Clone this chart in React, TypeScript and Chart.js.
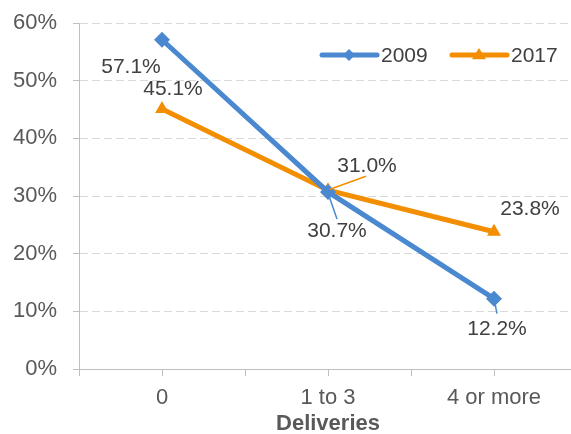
import React, { useEffect, useRef } from "react";
import { Chart, registerables } from "chart.js";

Chart.register(...registerables);

const categories = ["0", "1 to 3", "4 or more"];
const series2009 = [57.1, 30.7, 12.2];
const series2017 = [45.1, 31.0, 23.8];
const seriesNames = ["2009", "2017"];
const yTicks = [0, 10, 20, 30, 40, 50, 60];

const BLUE = "#4a88cf";
const ORANGE = "#f28e00";
const FONT = "'Liberation Sans', Arial, sans-serif";

// label placement relative to its point: dx, dy, optional leader line [x1, y1, x2, y2]
const labelPlacement: Record<string, { dx: number; dy: number; leader?: [number, number, number, number] }> = {
  "0-0": { dx: -31, dy: 27 },
  "0-1": { dx: 9, dy: 39, leader: [1, 4, 9, 27] },
  "0-2": { dx: 3, dy: 31, leader: [1, 5, 3, 15] },
  "1-0": { dx: 11, dy: -20 },
  "1-1": { dx: 39, dy: -24, leader: [2, -1, 38, -14] },
  "1-2": { dx: 36, dy: -23 },
};

function drawMarker(ctx: CanvasRenderingContext2D, style: string, x: number, y: number, color: string) {
  ctx.fillStyle = color;
  ctx.beginPath();
  if (style === "rectRot") {
    const r = 6;
    ctx.moveTo(x, y - r);
    ctx.lineTo(x + r, y);
    ctx.lineTo(x, y + r);
    ctx.lineTo(x - r, y);
  } else {
    const r = 7;
    ctx.moveTo(x, y - r);
    ctx.lineTo(x + r, y + r * 0.6);
    ctx.lineTo(x - r, y + r * 0.6);
  }
  ctx.closePath();
  ctx.fill();
}

const extrasPlugin = {
  id: "extras",
  afterDatasetsDraw(chart: any) {
    const ctx = chart.ctx;
    const xs = chart.scales.x;
    const area = chart.chartArea;
    ctx.save();
    // tick marks at category centres
    ctx.strokeStyle = "#bfbfbf";
    ctx.lineWidth = 1;
    categories.forEach((_, i) => {
      const px = Math.round(xs.getPixelForValue(i)) + 0.5;
      ctx.beginPath();
      ctx.moveTo(px, area.bottom);
      ctx.lineTo(px, area.bottom + 7);
      ctx.stroke();
    });
    // data labels
    ctx.font = `21px ${FONT}`;
    ctx.textAlign = "center";
    ctx.textBaseline = "middle";
    chart.data.datasets.forEach((ds: any, di: number) => {
      const meta = chart.getDatasetMeta(di);
      meta.data.forEach((pt: any, i: number) => {
        const p = labelPlacement[`${di}-${i}`];
        if (!p) return;
        if (p.leader) {
          ctx.strokeStyle = di === 0 ? BLUE : ORANGE;
          ctx.lineWidth = 1.5;
          ctx.beginPath();
          ctx.moveTo(pt.x + p.leader[0], pt.y + p.leader[1]);
          ctx.lineTo(pt.x + p.leader[2], pt.y + p.leader[3]);
          ctx.stroke();
        }
        ctx.fillStyle = "#404040";
        ctx.fillText(ds.data[i].toFixed(1) + "%", pt.x + p.dx, pt.y + p.dy);
      });
    });
    // axis title
    ctx.fillStyle = "#595959";
    ctx.font = `bold 22px ${FONT}`;
    ctx.fillText("Deliveries", (area.left + area.right) / 2, 424);
    // legend
    const legendItems = [
      { x: 322, color: BLUE, style: "rectRot", label: seriesNames[0] },
      { x: 452, color: ORANGE, style: "triangle", label: seriesNames[1] },
    ];
    const ly = 55;
    legendItems.forEach((it) => {
      ctx.strokeStyle = it.color;
      ctx.lineWidth = 5;
      ctx.lineCap = "round";
      ctx.beginPath();
      ctx.moveTo(it.x, ly);
      ctx.lineTo(it.x + 55, ly);
      ctx.stroke();
      drawMarker(ctx, it.style, it.x + 27, ly, it.color);
      ctx.fillStyle = "#404040";
      ctx.font = `21px ${FONT}`;
      ctx.textAlign = "left";
      ctx.fillText(it.label, it.x + 59, ly + 1);
    });
    ctx.restore();
  },
};

export default function App() {
  const ref = useRef<HTMLCanvasElement>(null);
  useEffect(() => {
    if (!ref.current) return;
    const chart = new Chart(ref.current, {
      type: "line",
      data: {
        labels: categories,
        datasets: [
          {
            label: seriesNames[0],
            data: series2009,
            borderColor: BLUE,
            backgroundColor: BLUE,
            borderWidth: 5,
            pointStyle: "rectRot",
            pointRadius: 8,
            pointBorderWidth: 0,
            tension: 0,
          },
          {
            label: seriesNames[1],
            data: series2017,
            borderColor: ORANGE,
            backgroundColor: ORANGE,
            borderWidth: 5,
            pointStyle: "triangle",
            pointRadius: 8,
            pointBorderWidth: 0,
            tension: 0,
          },
        ],
      },
      options: {
        responsive: false,
        animation: false,
        layout: { autoPadding: false, padding: { top: 23, right: 0, left: 0, bottom: 0 } },
        plugins: { legend: { display: false }, tooltip: { enabled: false } },
        scales: {
          x: {
            offset: true,
            grid: {
              display: true,
              drawOnChartArea: false,
              offset: true,
              tickLength: 7,
              tickColor: "#bfbfbf",
              color: "#bfbfbf",
            },
            border: { display: true, color: "#bfbfbf", width: 1 },
            ticks: {
              color: "#595959",
              font: { family: FONT, size: 22 },
              padding: 9,
              maxRotation: 0,
            },
            afterFit: (s: any) => {
              s.height = 65;
              s.paddingLeft = 0;
              s.paddingRight = 0;
            },
          },
          y: {
            min: 0,
            max: 60,
            afterBuildTicks: (s: any) => {
              s.ticks = yTicks.map((v) => ({ value: v }));
            },
            grid: {
              color: "#d9d9d9",
              tickColor: "#bfbfbf",
              tickLength: 6,
              lineWidth: 1,
            },
            border: { display: true, color: "#bfbfbf", dash: [8, 4] },
            ticks: {
              color: "#595959",
              font: { family: FONT, size: 22 },
              padding: 16,
              callback: (v: any) => v + "%",
            },
            afterFit: (s: any) => {
              s.width = 79;
              s.paddingTop = 0;
              s.paddingBottom = 0;
            },
          },
        },
      },
      plugins: [extrasPlugin],
    });
    return () => chart.destroy();
  }, []);
  return (
    <div style={{ position: "fixed", left: 0, top: 0, width: 571, height: 434, overflow: "hidden", background: "#fff" }}>
      <canvas ref={ref} width={577} height={434} style={{ display: "block", width: 577, height: 434 }} />
    </div>
  );
}
